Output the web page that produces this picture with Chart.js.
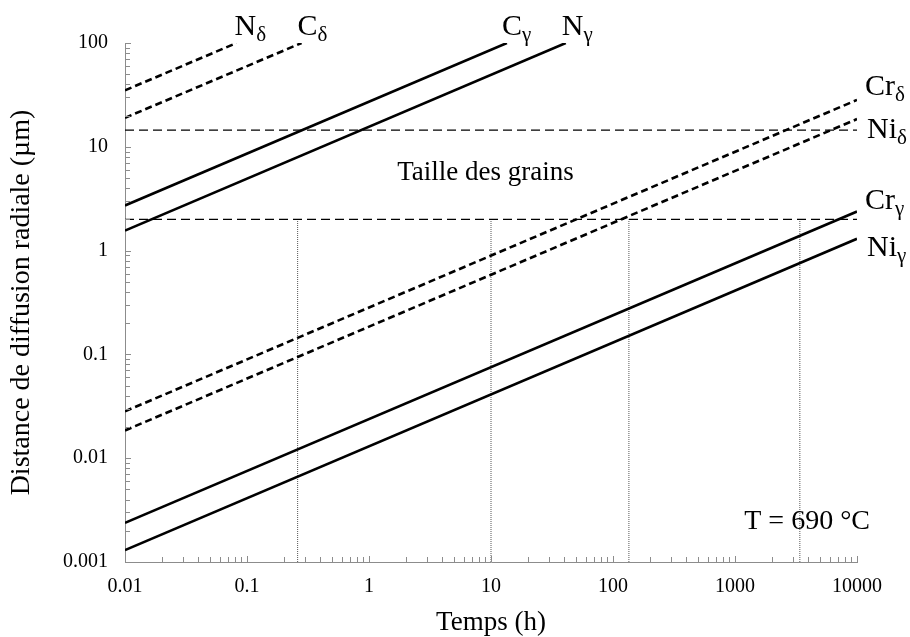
<!DOCTYPE html>
<html>
<head>
<meta charset="utf-8">
<script src="https://cdn.jsdelivr.net/npm/chart.js@4.4.1/dist/chart.umd.min.js"></script>
<style>
  html, body { margin: 0; padding: 0; background: #fff; }
</style>
</head>
<body>
<canvas id="grafico" width="910" height="637"></canvas>
<script>
// temps (h) et distance (µm) : extrémités de chaque droite
const tempsNdelta = [0.01, 0.082];
const distNdelta = [35, 100];
const tempsCdelta = [0.01, 0.28];
const distCdelta = [19, 100];
const tempsCgamma = [0.01, 13.5];
const distCgamma = [2.72, 100];
const tempsNgamma = [0.01, 41];
const distNgamma = [1.56, 100];
const tempsCrdelta = [0.01, 10000];
const distCrdelta = [0.0283, 28.3];
const tempsNidelta = [0.01, 10000];
const distNidelta = [0.0185, 18.5];
const tempsCrgamma = [0.01, 10000];
const distCrgamma = [0.00238, 2.38];
const tempsNigamma = [0.01, 10000];
const distNigamma = [0.0013, 1.3];

// taille des grains (lignes horizontales) et repères verticaux
const tailleGrains = [14.5, 2];
const tempsReperes = [0.26, 10, 135, 3400];

const xTicks = [0.01, 0.1, 1, 10, 100, 1000, 10000];
const xTickLabels = ["0.01", "0.1", "1", "10", "100", "1000", "10000"];
const yTicks = [0.001, 0.01, 0.1, 1, 10, 100];
const yTickLabels = ["0.001", "0.01", "0.1", "1", "10", "100"];

const police = '"Liberation Serif", "Times New Roman", serif';

function points(xs, ys) {
  return xs.map((x, i) => ({ x: x, y: ys[i] }));
}

function droite(xs, ys, pointille) {
  return {
    data: points(xs, ys),
    borderColor: "#000",
    borderWidth: 2.6,
    borderDash: pointille ? [7, 4] : [],
    pointRadius: 0,
    fill: false,
  };
}

const datasets = [
  droite(tempsNdelta, distNdelta, true),
  droite(tempsCdelta, distCdelta, true),
  droite(tempsCgamma, distCgamma, false),
  droite(tempsNgamma, distNgamma, false),
  droite(tempsCrdelta, distCrdelta, true),
  droite(tempsNidelta, distNidelta, true),
  droite(tempsCrgamma, distCrgamma, false),
  droite(tempsNigamma, distNigamma, false),
];

tailleGrains.forEach((g) => {
  datasets.push({
    data: points([xTicks[0], xTicks[xTicks.length - 1]], [g, g]),
    borderColor: "#000",
    borderWidth: 1.3,
    borderDash: [9, 5],
    pointRadius: 0,
  });
});

tempsReperes.forEach((t) => {
  datasets.push({
    data: points([t, t], [yTicks[0], tailleGrains[1]]),
    borderColor: "#555",
    borderWidth: 1,
    borderDash: [1, 1],
    pointRadius: 0,
  });
});

// étiquettes des droites : indice de la série, texte, décalage en px
const etiquettes = [
  { serie: 0, texte: "N", indice: "δ", dx: -2, dy: -8 },
  { serie: 1, texte: "C", indice: "δ", dx: -4, dy: -8 },
  { serie: 2, texte: "C", indice: "γ", dx: -5, dy: -8 },
  { serie: 3, texte: "N", indice: "γ", dx: -4, dy: -8 },
  { serie: 4, texte: "Cr", indice: "δ", dx: 8, dy: -5 },
  { serie: 5, texte: "Ni", indice: "δ", dx: 10, dy: 19 },
  { serie: 6, texte: "Cr", indice: "γ", dx: 8, dy: -3 },
  { serie: 7, texte: "Ni", indice: "γ", dx: 10, dy: 17 },
];

const textes = {
  id: "textes",
  afterDraw(chart) {
    const ctx = chart.ctx;
    const xs = chart.scales.x;
    const ys = chart.scales.y;
    const area = chart.chartArea;
    ctx.save();

    // graduations intérieures
    ctx.strokeStyle = "#8c8c8c";
    ctx.lineWidth = 1;
    ctx.beginPath();
    xTicks.forEach((d, i) => {
      for (let m = 1; m <= 9; m++) {
        const v = d * m;
        if (m > 1 && i === xTicks.length - 1) continue;
        const px = Math.round(xs.getPixelForValue(v)) + 0.5;
        const l = m === 1 ? 6 : 5;
        ctx.moveTo(px, area.bottom);
        ctx.lineTo(px, area.bottom - l);
      }
    });
    yTicks.forEach((d, i) => {
      for (let m = 1; m <= 9; m++) {
        const v = d * m;
        if (m > 1 && i === yTicks.length - 1) continue;
        const py = Math.round(ys.getPixelForValue(v)) + 0.5;
        const l = m === 1 ? 6 : 5;
        ctx.moveTo(area.left, py);
        ctx.lineTo(area.left + l, py);
      }
    });
    ctx.stroke();

    ctx.fillStyle = "#000";
    ctx.textBaseline = "alphabetic";
    ctx.textAlign = "left";
    etiquettes.forEach((e) => {
      const data = chart.data.datasets[e.serie].data;
      const fin = data[data.length - 1];
      const x = xs.getPixelForValue(fin.x) + e.dx;
      const y = ys.getPixelForValue(fin.y) + e.dy;
      ctx.font = "30px " + police;
      ctx.fillText(e.texte, x, y);
      const w = ctx.measureText(e.texte).width;
      ctx.font = "21px " + police;
      ctx.fillText(e.indice, x + w, y + 6);
    });

    ctx.font = "27px " + police;
    ctx.textAlign = "center";
    ctx.fillText("Taille des grains", xs.getPixelForValue(9), ys.getPixelForValue(4.8));

    ctx.font = "28px " + police;
    ctx.textAlign = "right";
    ctx.fillText("T = 690 °C", area.right + 13, area.bottom - 33);
    ctx.restore();
  },
};

new Chart(document.getElementById("grafico").getContext("2d"), {
  type: "line",
  data: { datasets: datasets },
  options: {
    responsive: false,
    animation: false,
    layout: { padding: { top: 43, right: 53, left: 0, bottom: 0 } },
    plugins: { legend: { display: false }, tooltip: { enabled: false } },
    scales: {
      x: {
        type: "logarithmic",
        min: xTicks[0],
        max: xTicks[xTicks.length - 1],
        afterBuildTicks: (s) => { s.ticks = xTicks.map((v) => ({ value: v })); },
        afterFit: (s) => { s.height = 75; },
        grid: { display: true, drawOnChartArea: false, drawTicks: false },
        border: { display: true, color: "#8c8c8c", width: 1 },
        ticks: {
          color: "#000",
          padding: 13,
          maxRotation: 0,
          autoSkip: false,
          font: { family: police, size: 20 },
          callback: (v, i) => xTickLabels[i],
        },
        title: {
          display: true,
          text: "Temps (h)",
          color: "#000",
          font: { family: police, size: 27, lineHeight: 1 },
          padding: { top: 0, bottom: 1 },
        },
      },
      y: {
        type: "logarithmic",
        min: yTicks[0],
        max: yTicks[yTicks.length - 1],
        afterBuildTicks: (s) => { s.ticks = yTicks.map((v) => ({ value: v })); },
        afterFit: (s) => { s.width = 125; },
        grid: { display: true, drawOnChartArea: false, drawTicks: false },
        border: { display: true, color: "#8c8c8c", width: 1 },
        ticks: {
          color: "#000",
          padding: 17,
          autoSkip: false,
          font: { family: police, size: 20 },
          callback: (v, i) => yTickLabels[i],
        },
        title: {
          display: true,
          text: "Distance de diffusion radiale (µm)",
          color: "#000",
          font: { family: police, size: 28, lineHeight: 1 },
          padding: { top: 8, bottom: 0 },
        },
      },
    },
  },
  plugins: [textes],
});
</script>
</body>
</html>
